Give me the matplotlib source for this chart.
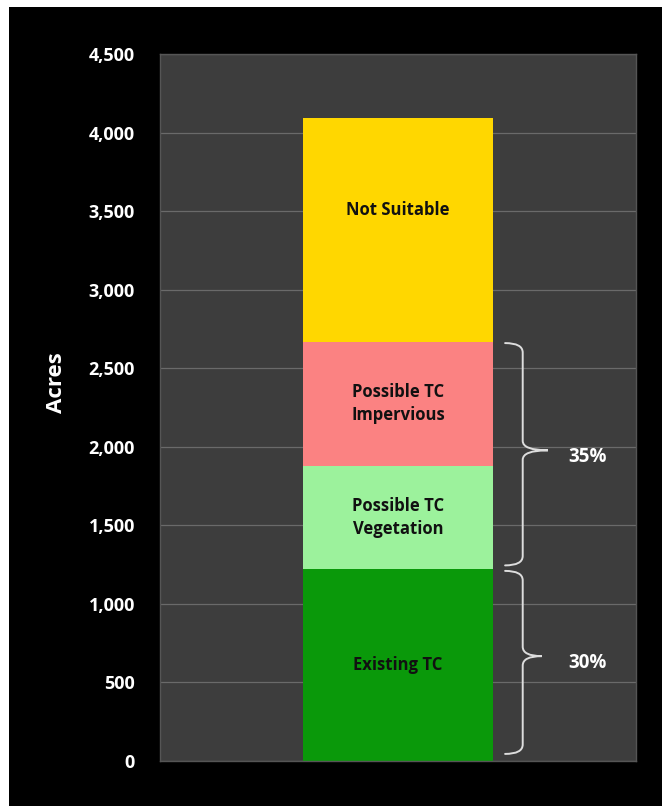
import matplotlib
matplotlib.use("Agg")
import matplotlib.pyplot as plt
from matplotlib.patches import Rectangle, PathPatch
from matplotlib.path import Path
from matplotlib.ticker import FuncFormatter

# Land-cover breakdown (acres), stacked bottom to top
segments = ["Existing TC", "Possible TC\nVegetation", "Possible TC\nImpervious", "Not Suitable"]
acres = [1220, 660, 790, 1420]
colors = ["#0a990a", "#9cf29c", "#fb8282", "#ffd700"]

y_ticks = [0, 500, 1000, 1500, 2000, 2500, 3000, 3500, 4000, 4500]

# Share annotations: (label, first segment index, last segment index)
groups = [("35%", 1, 2), ("30%", 0, 0)]

plt.rcParams["font.family"] = ["Open Sans", "DejaVu Sans"]

fig = plt.figure(figsize=(6.62, 8.06), dpi=100)
fig.patch.set_facecolor("white")
fig.patches.append(Rectangle((9 / 662, 0), 1, (806 - 7) / 806, transform=fig.transFigure,
                             facecolor="black", edgecolor="none", zorder=-10))

ax = fig.add_axes([160 / 662, 45 / 806, 476 / 662, 707 / 806])
ax.set_facecolor("#3d3d3d")
for s in ax.spines.values():
    s.set_color("#555555")
    s.set_linewidth(1.0)

ax.set_xlim(-0.5, 0.5)
ax.set_ylim(0, 4500)
ax.set_yticks(y_ticks)
ax.yaxis.set_major_formatter(FuncFormatter(lambda v, p: f"{int(v):,}"))
ax.set_xticks([])
ax.tick_params(axis="y", length=0, pad=18, labelcolor="white", labelsize=13)
for lbl in ax.get_yticklabels():
    lbl.set_fontweight("bold")
ax.grid(axis="y", color="#6a6a6a", linewidth=0.9)
ax.set_axisbelow(True)

ax.set_ylabel("Acres", color="white", fontsize=16, fontweight="bold")
ax.yaxis.set_label_coords(-0.195, 0.535)

bottom = 0
bounds = []
for i, (name, val, col) in enumerate(zip(segments, acres, colors)):
    ax.bar(0, val, width=0.4, bottom=bottom, color=col, edgecolor="none", zorder=2)
    # the top segment's label sits in the upper part of its block
    y_lbl = bottom + val * (0.59 if i == len(acres) - 1 else 0.5)
    ax.text(0, y_lbl, name, ha="center", va="center", fontsize=12,
            fontweight="bold", color="#111111", linespacing=1.4, zorder=3)
    bounds.append((bottom, bottom + val))
    bottom += val


def brace(x_end, x_mid, x_tip, y_top, y_bot, y_tip, r):
    verts = [
        (x_end, y_top), (x_mid, y_top), (x_mid, y_top - r),
        (x_mid, y_tip + r),
        (x_mid, y_tip), (x_tip, y_tip),
        (x_mid, y_tip), (x_mid, y_tip - r),
        (x_mid, y_bot + r),
        (x_mid, y_bot), (x_end, y_bot),
    ]
    codes = [Path.MOVETO, Path.CURVE3, Path.CURVE3,
             Path.LINETO,
             Path.CURVE3, Path.CURVE3,
             Path.CURVE3, Path.CURVE3,
             Path.LINETO,
             Path.CURVE3, Path.CURVE3]
    return PathPatch(Path(verts, codes), facecolor="none", edgecolor="#dddddd",
                     linewidth=1.4, zorder=4, capstyle="round")


for label, i0, i1 in groups:
    lo = bounds[i0][0]
    hi = bounds[i1][1]
    top = hi - 10
    bot = lo + 45 if lo == 0 else lo + 25
    tip = (top + bot) / 2 + (25 if i0 == 1 else 40)
    ax.add_patch(brace(0.225, 0.262, 0.315 if i0 == 1 else 0.302, top, bot, tip, 60))
    ax.text(0.399, (top + bot) / 2 + (-20 if i0 == 1 else -5), label, ha="center",
            va="center", fontsize=13.5, fontweight="bold", color="white", zorder=4)

fig.savefig("out.png", dpi=100, facecolor=fig.get_facecolor())
